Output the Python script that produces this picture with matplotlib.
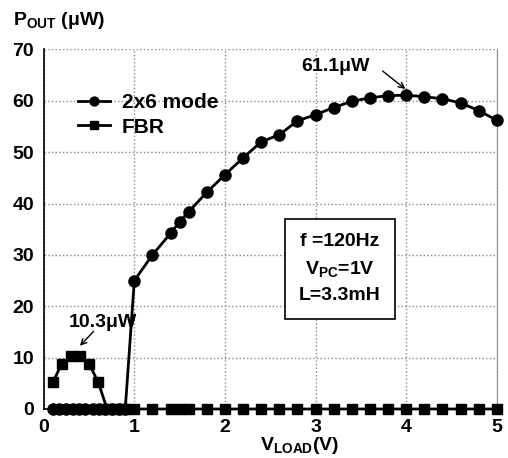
import matplotlib
matplotlib.use("Agg")
import matplotlib.pyplot as plt
from matplotlib import font_manager

# data
v_2x6 = [0.1, 0.17, 0.25, 0.32, 0.39, 0.46, 0.54, 0.61, 0.68, 0.75, 0.83, 0.9,
         1.0, 1.2, 1.4, 1.5, 1.6, 1.8, 2.0, 2.2, 2.4, 2.6, 2.8, 3.0, 3.2, 3.4,
         3.6, 3.8, 4.0, 4.2, 4.4, 4.6, 4.8, 5.0]
p_2x6 = [0] * 12 + [25.0, 30.0, 34.2, 36.5, 38.4, 42.2, 45.6, 48.9, 52.0, 53.4,
                    56.1, 57.3, 58.7, 59.9, 60.6, 61.0, 61.1, 60.8, 60.4, 59.6,
                    58.1, 56.2]

v_fbr = [0.1, 0.2, 0.3, 0.4, 0.5, 0.6, 0.7, 0.8, 0.9, 1.0, 1.2, 1.4, 1.5, 1.6,
         1.8, 2.0, 2.2, 2.4, 2.6, 2.8, 3.0, 3.2, 3.4, 3.6, 3.8, 4.0, 4.2, 4.4,
         4.6, 4.8, 5.0]
p_fbr = [5.2, 8.8, 10.3, 10.3, 8.8, 5.3] + [0] * 25

xticks = [0, 1, 2, 3, 4, 5]
yticks = [0, 10, 20, 30, 40, 50, 60, 70]

names = {f.name for f in font_manager.fontManager.ttflist}
fam = "Liberation Sans Narrow" if "Liberation Sans Narrow" in names else "Liberation Sans"
plt.rcParams['font.family'] = [fam, 'DejaVu Sans']
plt.rcParams['font.weight'] = 'bold'
plt.rcParams['mathtext.fontset'] = 'custom'
plt.rcParams['mathtext.bf'] = fam + ':bold'
plt.rcParams['mathtext.rm'] = fam + ':bold'

fig = plt.figure(figsize=(5.08, 4.58), dpi=100)
ax = fig.add_axes([0.086, 0.107, 0.892, 0.785])

ax.plot(v_2x6, p_2x6, color='black', lw=2, marker='o', ms=8, label='2x6 mode',
        zorder=3, clip_on=False)
ax.plot(v_fbr, p_fbr, color='black', lw=2, marker='s', ms=7, label='FBR',
        zorder=3, clip_on=False)

ax.set_xlim(0, 5)
ax.set_ylim(0, 70)
ax.set_xticks(xticks)
ax.set_yticks(yticks)
ax.tick_params(length=0, labelsize=14, pad=7)
for lab in ax.get_xticklabels() + ax.get_yticklabels():
    lab.set_fontweight('bold')
ax.grid(True, linestyle=':', color='#888888', lw=1)
ax.spines['top'].set_visible(False)
ax.spines['right'].set_color('#888888')
ax.spines['left'].set_linewidth(1.2)
ax.spines['bottom'].set_linewidth(1.2)

leg = ax.legend(loc='upper left', bbox_to_anchor=(0.035, 0.93), frameon=False,
                fontsize=15, handlelength=1.5, handletextpad=0.6, labelspacing=0.25,
                markerscale=0.8)
for t in leg.get_texts():
    t.set_fontweight('bold')

ax.text(3.22, 66.6, '61.1μW', fontsize=14, fontweight='bold', ha='center', va='center')
ax.annotate('', xy=(3.99, 62.3), xytext=(3.74, 65.8),
            arrowprops=dict(arrowstyle='->', color='black', lw=1, shrinkA=0, shrinkB=0))
ax.text(0.65, 16.9, '10.3μW', fontsize=14, fontweight='bold', ha='center', va='center')
ax.annotate('', xy=(0.40, 12.3), xytext=(0.55, 15.1),
            arrowprops=dict(arrowstyle='->', color='black', lw=1, shrinkA=0, shrinkB=0))

ax.text(3.27, 27.3, 'f =120Hz\n$\\mathbf{V_{PC}}$=1V\nL=3.3mH', fontsize=14,
        fontweight='bold', ha='center', va='center', linespacing=1.6,
        bbox=dict(boxstyle='square,pad=0.75', fc='white', ec='black', lw=1.2), zorder=4)

fig.text(0.025, 0.955, '$\\mathbf{P_{OUT}}$ (μW)', fontsize=14, fontweight='bold',
         ha='left', va='center')
fig.text(0.59, 0.028, '$\\mathbf{V_{LOAD}}$(V)', fontsize=14, fontweight='bold',
         ha='center', va='center')

fig.savefig('out.png', dpi=100)
